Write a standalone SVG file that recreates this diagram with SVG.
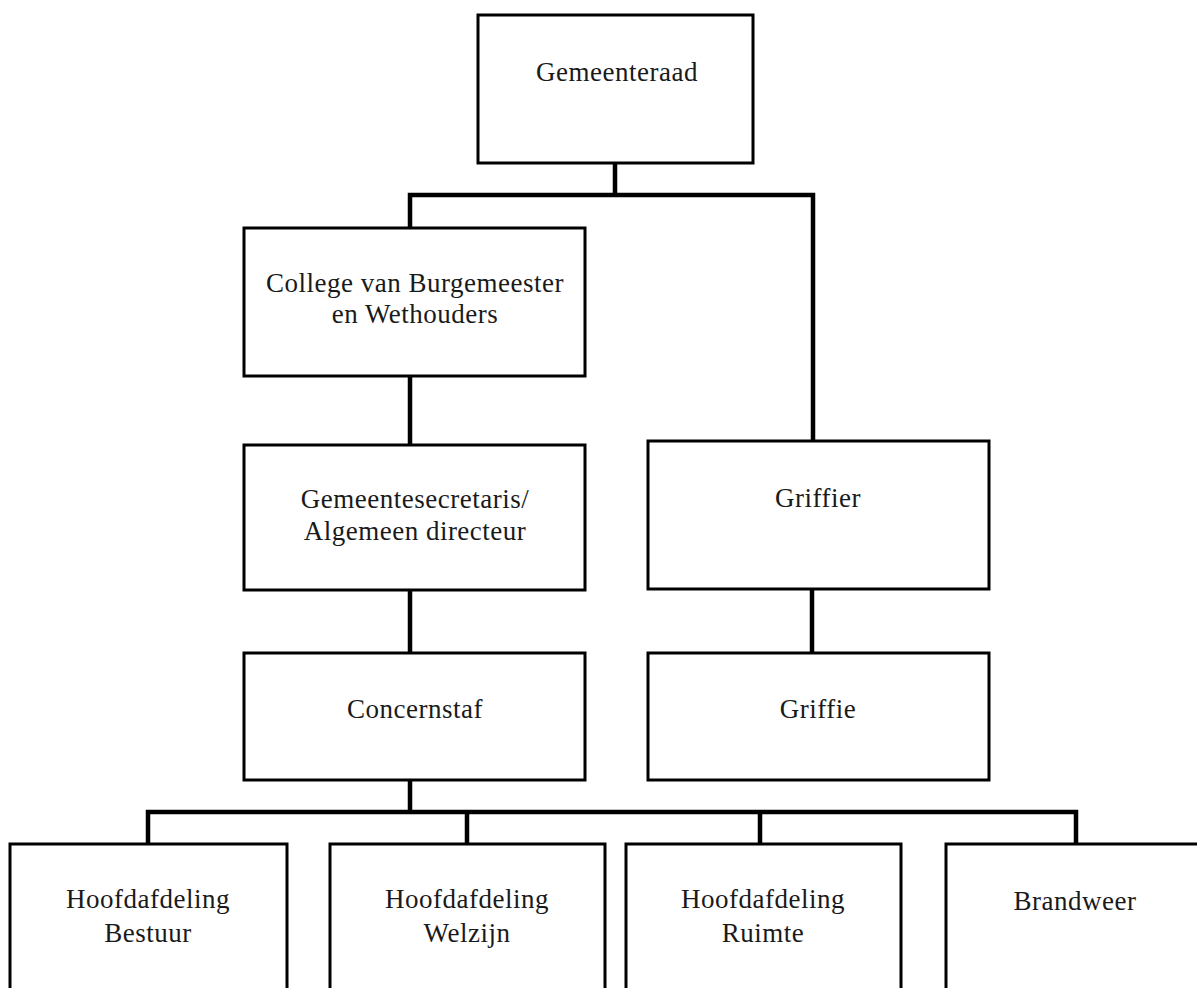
<svg xmlns="http://www.w3.org/2000/svg" width="1197" height="988" viewBox="0 0 1197 988">
  <style>
    .box { fill: #ffffff; stroke: #000000; stroke-width: 3; }
    .wire { fill: none; stroke: #000000; stroke-width: 4.5; stroke-linejoin: miter; stroke-linecap: square; }
    .lbl { font-family: "Liberation Serif", "Times New Roman", serif; font-size: 27px; letter-spacing: 0.5px; fill: #1a1a1a; text-anchor: middle; }
  </style>
  <rect x="0" y="0" width="1197" height="988" fill="#ffffff"/>

  <!-- connectors -->
  <g id="connectors">
    <path class="wire" d="M615,163 V195 M410,195 H813 M410,195 V228 M813,195 V441"/>
    <path class="wire" d="M410,376 V445"/>
    <path class="wire" d="M410,590 V653"/>
    <path class="wire" d="M812,589 V653"/>
    <path class="wire" d="M410,780 V812 M148,812 H1076 M148,812 V844 M467,812 V844 M760,812 V844 M1076,812 V844"/>
  </g>

  <g id="gemeenteraad">
    <rect class="box" x="478" y="15" width="275" height="148"/>
    <text class="lbl" x="617" y="81">Gemeenteraad</text>
  </g>

  <g id="college">
    <rect class="box" x="244" y="228" width="341" height="148"/>
    <text class="lbl" x="415" y="292">College van Burgemeester</text>
    <text class="lbl" x="415" y="323">en Wethouders</text>
  </g>

  <g id="gemeentesecretaris">
    <rect class="box" x="244" y="445" width="341" height="145"/>
    <text class="lbl" x="415" y="508">Gemeentesecretaris/</text>
    <text class="lbl" x="415" y="540">Algemeen directeur</text>
  </g>

  <g id="griffier">
    <rect class="box" x="648" y="441" width="341" height="148"/>
    <text class="lbl" x="818" y="507">Griffier</text>
  </g>

  <g id="concernstaf">
    <rect class="box" x="244" y="653" width="341" height="127"/>
    <text class="lbl" x="415" y="718">Concernstaf</text>
  </g>

  <g id="griffie">
    <rect class="box" x="648" y="653" width="341" height="127"/>
    <text class="lbl" x="818" y="718">Griffie</text>
  </g>

  <g id="hoofdafdeling-bestuur">
    <rect class="box" x="10" y="844" width="277" height="160"/>
    <text class="lbl" x="148" y="908">Hoofdafdeling</text>
    <text class="lbl" x="148" y="942">Bestuur</text>
  </g>

  <g id="hoofdafdeling-welzijn">
    <rect class="box" x="330" y="844" width="275" height="160"/>
    <text class="lbl" x="467" y="908">Hoofdafdeling</text>
    <text class="lbl" x="467" y="942">Welzijn</text>
  </g>

  <g id="hoofdafdeling-ruimte">
    <rect class="box" x="626" y="844" width="275" height="160"/>
    <text class="lbl" x="763" y="908">Hoofdafdeling</text>
    <text class="lbl" x="763" y="942">Ruimte</text>
  </g>

  <g id="brandweer">
    <rect class="box" x="946" y="844" width="290" height="160"/>
    <text class="lbl" x="1075" y="910">Brandweer</text>
  </g>
</svg>
